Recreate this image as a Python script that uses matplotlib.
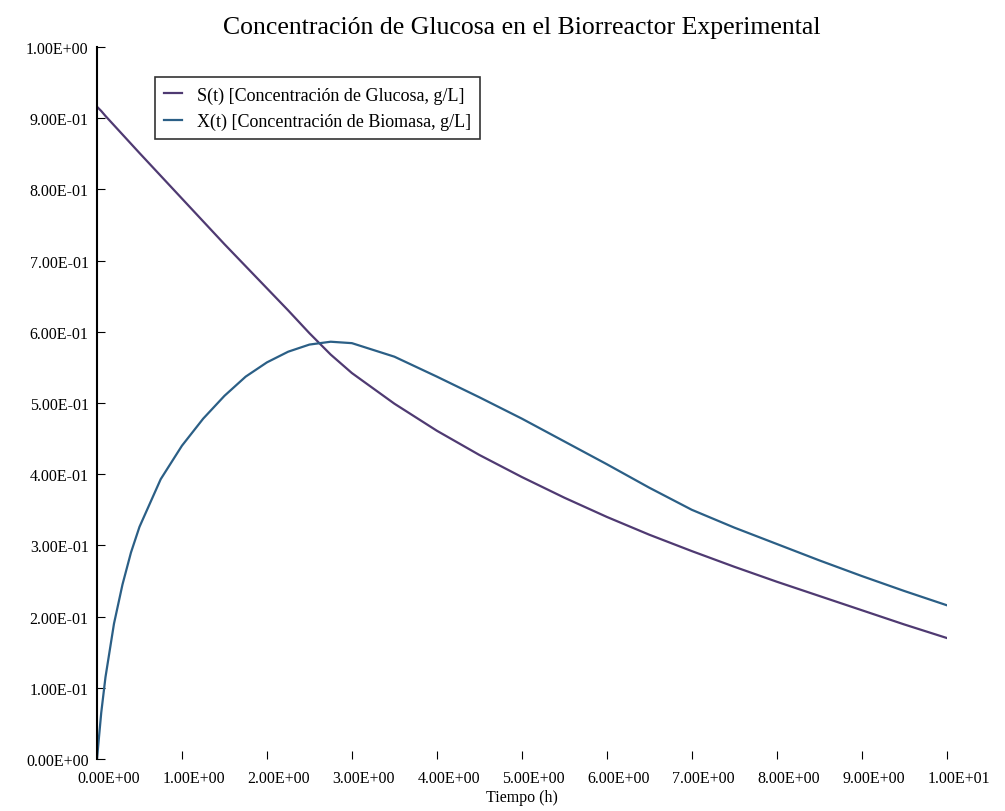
import numpy as np
import matplotlib.pyplot as plt
import matplotlib.transforms as mtransforms
from matplotlib.ticker import FormatStrFormatter

plt.rcParams['font.family'] = ['Liberation Serif', 'DejaVu Serif']

# Datos
t = [0, 0.05, 0.1, 0.2, 0.3, 0.4, 0.5, 0.75, 1, 1.25, 1.5, 1.75, 2, 2.25, 2.5, 2.75,
     3, 3.5, 4, 4.5, 5, 5.5, 6, 6.5, 7, 7.5, 8, 8.5, 9, 9.5, 10]
sustrato = [0.916, 0.910, 0.903, 0.890, 0.877, 0.864, 0.851, 0.819, 0.787, 0.755,
            0.723, 0.692, 0.661, 0.630, 0.598, 0.568, 0.542, 0.499, 0.461, 0.427,
            0.396, 0.367, 0.340, 0.315, 0.292, 0.270, 0.249, 0.229, 0.209, 0.189, 0.170]
biomasa = [0.0, 0.065, 0.115, 0.190, 0.245, 0.290, 0.326, 0.393, 0.440, 0.478,
           0.510, 0.537, 0.557, 0.572, 0.582, 0.586, 0.584, 0.565, 0.537, 0.508,
           0.478, 0.446, 0.414, 0.381, 0.350, 0.325, 0.302, 0.279, 0.257, 0.236, 0.216]

xticks = np.arange(0, 11, 1)
yticks = np.arange(0, 1.01, 0.1)

fig = plt.figure(figsize=(10.05, 8.12), dpi=100)
ax = fig.add_axes([0.0965, 0.064, 0.8455, 0.877])

ax.plot(t, sustrato, color='#4f3a72', linewidth=1.6,
        label='S(t) [Concentración de Glucosa, g/L]')
ax.plot(t, biomasa, color='#2b5f86', linewidth=1.6,
        label='X(t) [Concentración de Biomasa, g/L]')

ax.set_xlim(0, 10)
ax.set_ylim(0, 1.0)
ax.set_xticks(xticks)
ax.set_yticks(yticks)
ax.xaxis.set_major_formatter(FormatStrFormatter('%.2E'))
ax.yaxis.set_major_formatter(FormatStrFormatter('%.2E'))
ax.tick_params(direction='in', labelsize=11.5, length=6)
ax.tick_params(axis='x', pad=8)
ax.tick_params(axis='y', pad=6)

# etiquetas del eje x algo desplazadas a la derecha
shift = mtransforms.ScaledTranslation(12 / 100, 0, fig.dpi_scale_trans)
for lbl in ax.get_xticklabels():
    lbl.set_transform(lbl.get_transform() + shift)

for s in ['top', 'right', 'bottom']:
    ax.spines[s].set_visible(False)
ax.spines['left'].set_linewidth(1.5)

ax.set_title('Concentración de Glucosa en el Biorreactor Experimental',
             fontsize=18.5, pad=10)
ax.set_xlabel('Tiempo (h)', fontsize=11.5, labelpad=2)

leg = ax.legend(loc='upper left', bbox_to_anchor=(0.058, 0.97), fontsize=13,
                frameon=True, fancybox=False, handlelength=1.0, borderpad=0.5,
                labelspacing=0.5)
leg.get_frame().set_edgecolor('black')
leg.get_frame().set_linewidth(1.2)

plt.savefig('out.png', dpi=100)
